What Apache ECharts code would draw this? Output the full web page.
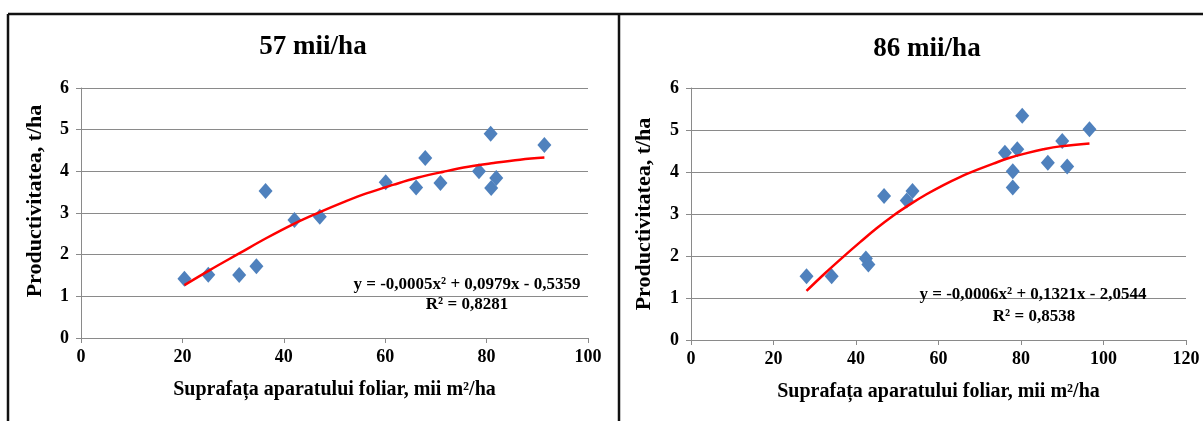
<!DOCTYPE html>
<html>
<head>
<meta charset="utf-8">
<script src="https://cdn.jsdelivr.net/npm/echarts@6/dist/echarts.min.js"></script>
<style>
html,body{margin:0;padding:0;background:#fff;}
#chart{width:1203px;height:421px;}
</style>
</head>
<body>
<div id="chart"></div>
<script>
// ---- data ----
const titles = ['57 mii/ha', '86 mii/ha'];
const xAxisName = 'Suprafața aparatului foliar, mii m²/ha';
const yAxisName = 'Productivitatea, t/ha';

const x57 = [20.4, 25.1, 31.2, 34.6, 36.4, 42.1, 47.1, 60.1, 66.1, 67.9, 70.9, 78.5, 80.8, 80.9, 81.9, 91.4];
const y57 = [1.42, 1.52, 1.51, 1.72, 3.53, 2.83, 2.91, 3.74, 3.61, 4.32, 3.72, 4.0, 4.9, 3.6, 3.84, 4.63];
const trendX57 = [20.4, 25.4, 31.2, 36.6, 42, 47.1, 51.8, 56.3, 61.7, 66.5, 71.5, 76.4, 81.4, 86.6, 91.4];
const trendY57 = [1.27, 1.63, 2.03, 2.40, 2.74, 3.02, 3.26, 3.47, 3.68, 3.85, 3.99, 4.11, 4.20, 4.28, 4.33];
const eq57 = 'y = -0,0005x² + 0,0979x - 0,5359';
const r57 = 'R² = 0,8281';

const x86 = [28.0, 34.1, 42.4, 43.0, 46.8, 52.3, 53.7, 76.1, 78.0, 78.0, 79.1, 80.3, 86.5, 90.0, 91.2, 96.6];
const y86 = [1.52, 1.52, 1.94, 1.8, 3.43, 3.32, 3.55, 4.46, 4.02, 3.63, 4.54, 5.34, 4.22, 4.74, 4.13, 5.02];
const trendX86 = [28.0, 32.5, 36.9, 41.0, 45.0, 49.0, 53.1, 57.1, 61.2, 65.2, 69.3, 73.3, 77.3, 81.4, 85.4, 89.5, 96.6];
const trendY86 = [1.17, 1.59, 1.98, 2.33, 2.66, 2.96, 3.23, 3.47, 3.69, 3.88, 4.05, 4.20, 4.34, 4.45, 4.54, 4.61, 4.68];
const eq86 = 'y = -0,0006x² + 0,1321x - 2,0544';
const r86 = 'R² = 0,8538';

const xMax = [100, 120];
const yMax = 6;

// ---- chart ----
const FONT = '"Liberation Serif", "Times New Roman", serif';
const pair = (xs, ys) => xs.map((x, i) => [x, ys[i]]);
const axisGray = '#8a8a8a';

function xAxis(gi, max) {
  return {
    type: 'value', gridIndex: gi, min: 0, max: max, interval: 20,
    name: xAxisName, nameLocation: 'middle', nameGap: 42,
    nameTextStyle: {fontFamily: FONT, fontWeight: 'bold', fontSize: 20, color: '#000'},
    axisLine: {show: true, lineStyle: {color: axisGray}},
    axisTick: {show: true, length: 5, lineStyle: {color: axisGray}},
    axisLabel: {fontFamily: FONT, fontWeight: 'bold', fontSize: 18, color: '#000', margin: 10},
    splitLine: {show: false}
  };
}
function yAxis(gi, pad, gap) {
  return {
    type: 'value', gridIndex: gi, min: 0, max: yMax, interval: 1,
    name: yAxisName, nameLocation: 'middle', nameGap: gap, nameRotate: 90,
    nameTextStyle: {fontFamily: FONT, fontWeight: 'bold', fontSize: 22, color: '#000', padding: pad},
    axisLine: {show: true, lineStyle: {color: axisGray}},
    axisTick: {show: true, length: 5, lineStyle: {color: axisGray}},
    axisLabel: {fontFamily: FONT, fontWeight: 'bold', fontSize: 18, color: '#000', margin: 12},
    splitLine: {show: true, lineStyle: {color: axisGray, width: 1}}
  };
}
function scatter(gi, data) {
  return {
    type: 'scatter', xAxisIndex: gi, yAxisIndex: gi, data: data,
    symbol: 'diamond', symbolSize: [14, 16],
    itemStyle: {color: '#4f81bd', opacity: 1}, z: 3
  };
}
function trend(gi, data) {
  return {
    type: 'line', xAxisIndex: gi, yAxisIndex: gi, data: data, smooth: 0.4,
    showSymbol: false, lineStyle: {color: '#ff0000', width: 2.5}, z: 4
  };
}
function txt(x, y, s) {
  return {type: 'text', x: x, y: y, z: 10, style: {text: s, fontFamily: FONT, fontWeight: 'bold', fontSize: 17, fill: '#000', align: 'center', verticalAlign: 'middle'}};
}
function line(x1, y1, x2, y2) {
  return {type: 'line', shape: {x1, y1, x2, y2}, style: {stroke: '#111', lineWidth: 2.5}, z: 20};
}

const chart = echarts.init(document.getElementById('chart'));
chart.setOption({
  backgroundColor: '#fff',
  animation: false,
  title: [
    {text: titles[0], left: 313, top: 34, textAlign: 'center', padding: 0,
     textStyle: {fontFamily: FONT, fontWeight: 'bold', fontSize: 27, color: '#000'}},
    {text: titles[1], left: 927, top: 36, textAlign: 'center', padding: 0,
     textStyle: {fontFamily: FONT, fontWeight: 'bold', fontSize: 27, color: '#000'}}
  ],
  grid: [
    {left: 81, top: 88, width: 507, height: 250},
    {left: 691, top: 88, width: 495, height: 252}
  ],
  xAxis: [xAxis(0, xMax[0]), xAxis(1, xMax[1])],
  yAxis: [yAxis(0, [0, 0, 0, 24], 35), yAxis(1, [0, 0, 0, 0], 36)],
  series: [
    scatter(0, pair(x57, y57)), trend(0, pair(trendX57, trendY57)),
    scatter(1, pair(x86, y86)), trend(1, pair(trendX86, trendY86))
  ],
  graphic: [
    line(8, 14, 1203, 14), line(8, 14, 8, 421), line(619, 14, 619, 421),
    txt(467, 285, eq57), txt(467, 305, r57),
    txt(1033, 295, eq86), txt(1034, 317, r86)
  ]
});
</script>
</body>
</html>
